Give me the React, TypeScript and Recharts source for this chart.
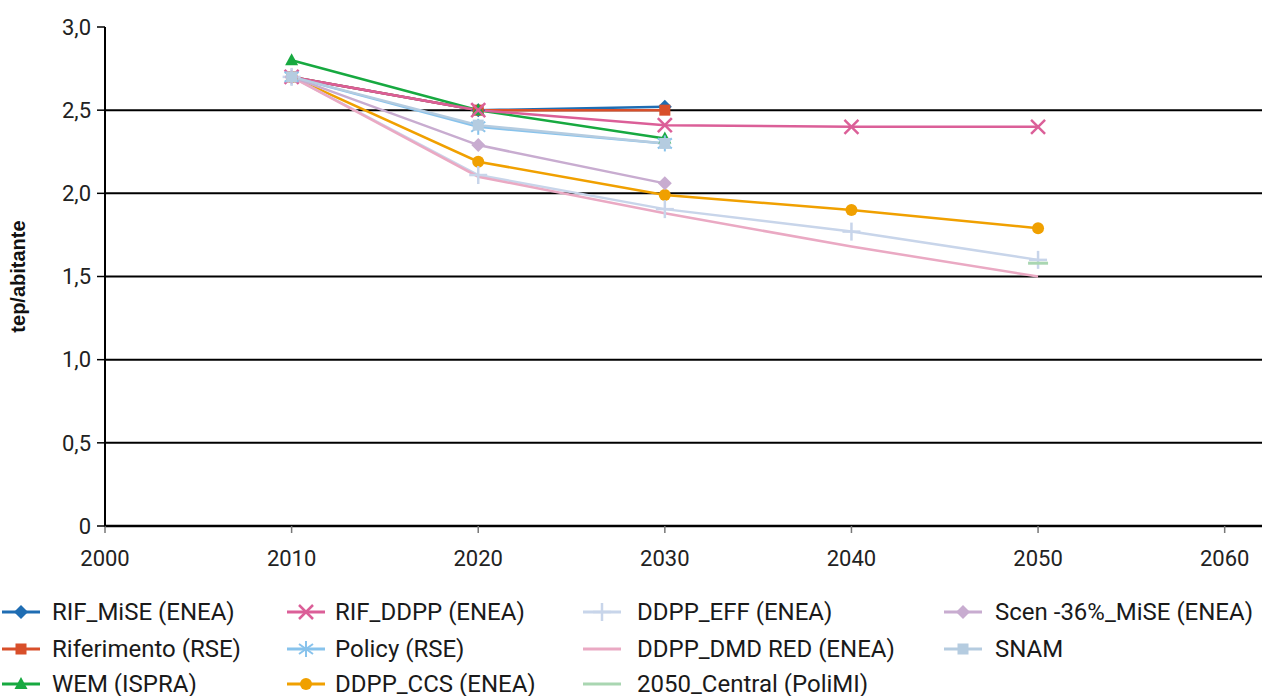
import React from 'react';
import { LineChart, Line, XAxis, YAxis, ReferenceLine } from 'recharts';

const years = [2010, 2020, 2030, 2040, 2050];

const rifMise = [2.70, 2.50, 2.52, null, null];
const riferimento = [2.70, 2.50, 2.50, null, null];
const wem = [2.80, 2.50, 2.33, null, null];
const rifDdpp = [2.70, 2.50, 2.41, 2.40, 2.40];
const policy = [2.70, 2.40, 2.30, null, null];
const ddppCcs = [2.70, 2.19, 1.99, 1.90, 1.79];
const ddppEff = [2.70, 2.11, 1.905, 1.77, 1.60];
const ddppDmd = [2.70, 2.10, 1.88, 1.68, 1.50];
const central2050 = [null, null, null, null, 1.58];
const scen36 = [2.70, 2.29, 2.06, null, null];
const snam = [2.70, 2.41, 2.30, null, null];

const xTicks = [2000, 2010, 2020, 2030, 2040, 2050, 2060];
const yTicks = [0, 0.5, 1, 1.5, 2, 2.5, 3];
const gridValues = [0.5, 1, 1.5, 2, 2.5];

type Shape = 'diamond' | 'square' | 'triangle' | 'x' | 'star' | 'circle' | 'plus' | 'none' | 'dash';

const SERIES: { key: string; name: string; color: string; shape: Shape; values: (number | null)[] }[] = [
  { key: 'rifMise', name: 'RIF_MiSE (ENEA)', color: '#1f6db3', shape: 'diamond', values: rifMise },
  { key: 'riferimento', name: 'Riferimento (RSE)', color: '#d84f2a', shape: 'square', values: riferimento },
  { key: 'wem', name: 'WEM (ISPRA)', color: '#17a940', shape: 'triangle', values: wem },
  { key: 'rifDdpp', name: 'RIF_DDPP (ENEA)', color: '#db5f98', shape: 'x', values: rifDdpp },
  { key: 'policy', name: 'Policy (RSE)', color: '#88c3ec', shape: 'star', values: policy },
  { key: 'ddppCcs', name: 'DDPP_CCS (ENEA)', color: '#f0a000', shape: 'circle', values: ddppCcs },
  { key: 'ddppEff', name: 'DDPP_EFF (ENEA)', color: '#c8d5ea', shape: 'plus', values: ddppEff },
  { key: 'ddppDmd', name: 'DDPP_DMD RED (ENEA)', color: '#eaa9c3', shape: 'none', values: ddppDmd },
  { key: 'central2050', name: '2050_Central (PoliMI)', color: '#a9d6b1', shape: 'dash', values: central2050 },
  { key: 'scen36', name: 'Scen -36%_MiSE (ENEA)', color: '#c8acd0', shape: 'diamond', values: scen36 },
  { key: 'snam', name: 'SNAM', color: '#b5cce0', shape: 'square', values: snam },
];

const data = years.map((year, i) => {
  const row: Record<string, number | null> = { year };
  SERIES.forEach((s) => { row[s.key] = s.values[i]; });
  return row;
});

function Marker({ cx, cy, color, shape }: { cx: number; cy: number; color: string; shape: Shape }) {
  switch (shape) {
    case 'diamond':
      return <polygon points={`${cx},${cy - 7} ${cx + 7},${cy} ${cx},${cy + 7} ${cx - 7},${cy}`} fill={color} />;
    case 'square':
      return <rect x={cx - 5.5} y={cy - 5.5} width={11} height={11} fill={color} />;
    case 'triangle':
      return <polygon points={`${cx},${cy - 7} ${cx + 6.5},${cy + 5} ${cx - 6.5},${cy + 5}`} fill={color} />;
    case 'x':
      return (
        <g stroke={color} strokeWidth={2.5}>
          <line x1={cx - 7} y1={cy - 7} x2={cx + 7} y2={cy + 7} />
          <line x1={cx - 7} y1={cy + 7} x2={cx + 7} y2={cy - 7} />
        </g>
      );
    case 'star':
      return (
        <g stroke={color} strokeWidth={2}>
          <line x1={cx} y1={cy - 8} x2={cx} y2={cy + 8} />
          <line x1={cx - 7} y1={cy - 5} x2={cx + 7} y2={cy + 5} />
          <line x1={cx - 7} y1={cy + 5} x2={cx + 7} y2={cy - 5} />
        </g>
      );
    case 'circle':
      return <circle cx={cx} cy={cy} r={6} fill={color} />;
    case 'plus':
      return (
        <g stroke={color} strokeWidth={2.5}>
          <line x1={cx} y1={cy - 9} x2={cx} y2={cy + 9} />
          <line x1={cx - 9} y1={cy} x2={cx + 9} y2={cy} />
        </g>
      );
    case 'dash':
      return <line x1={cx - 10} y1={cy} x2={cx + 10} y2={cy} stroke={color} strokeWidth={3} />;
    default:
      return null;
  }
}

const fmtY = (v: number) => (v === 0 ? '0' : v.toFixed(1).replace('.', ','));

const tickStyle = { fill: '#222', fontSize: 22, fontFamily: 'Roboto, sans-serif' };

const legendCols = [
  { x: 2, text: 52 },
  { x: 287, text: 335 },
  { x: 583, text: 637 },
  { x: 944, text: 995 },
];
const legendRows = [612, 649, 684];

function LegendIcon({ color, shape }: { color: string; shape: Shape }) {
  const w = 38;
  return (
    <svg width={w} height={20} style={{ position: 'absolute', left: 0, top: -10 }}>
      <line x1={0} y1={10} x2={w} y2={10} stroke={color} strokeWidth={3} />
      {shape !== 'dash' && <Marker cx={w / 2} cy={10} color={color} shape={shape} />}
    </svg>
  );
}

export default function App() {
  return (
    <div style={{ position: 'absolute', left: 0, top: 0, width: 1263, height: 696, background: '#fff' }}>
      <LineChart width={1263} height={590} data={data} margin={{ top: 27, right: 1, bottom: 34, left: 0 }}>
        <XAxis
          dataKey="year"
          type="number"
          domain={[2000, 2062]}
          ticks={xTicks}
          allowDataOverflow
          axisLine={{ stroke: '#000', strokeWidth: 2.5 }}
          tickLine={{ stroke: '#777', strokeWidth: 1.5 }}
          tickSize={7}
          tickMargin={17}
          tick={tickStyle}
        />
        <YAxis
          type="number"
          domain={[0, 3]}
          ticks={yTicks}
          width={105}
          tickFormatter={fmtY}
          axisLine={{ stroke: '#000', strokeWidth: 2 }}
          tickLine={{ stroke: '#000', strokeWidth: 1.5 }}
          tickSize={8}
          tickMargin={6}
          tick={tickStyle}
          label={{
            value: 'tep/abitante', angle: -90, position: 'insideLeft', offset: 18,
            style: { fill: '#111', fontSize: 20, fontWeight: 700, fontFamily: 'Liberation Sans, Arial, sans-serif', textAnchor: 'middle' },
          }}
        />
        {gridValues.map((v) => (
          <ReferenceLine key={v} y={v} stroke="#000" strokeWidth={2} />
        ))}
        {SERIES.map((s) => (
          <Line
            key={s.key}
            dataKey={s.key}
            name={s.name}
            stroke={s.color}
            strokeWidth={2.5}
            connectNulls
            isAnimationActive={false}
            activeDot={false}
            dot={(p: any) => {
              if (p.cx == null || p.cy == null || p.value == null) return <g key={`${s.key}-${p.index}`} />;
              return (
                <g key={`${s.key}-${p.index}`}>
                  <Marker cx={p.cx} cy={p.cy} color={s.color} shape={s.shape} />
                </g>
              );
            }}
          />
        ))}
      </LineChart>
      {SERIES.map((s, i) => {
        const col = legendCols[Math.floor(i / 3)];
        const y = legendRows[i % 3];
        return (
          <div key={s.key}>
            <div style={{ position: 'absolute', left: col.x, top: y }}>
              <LegendIcon color={s.color} shape={s.shape} />
            </div>
            <div style={{
              position: 'absolute', left: col.text, top: y - 15, fontSize: 24, lineHeight: '30px',
              fontFamily: 'Roboto, sans-serif', color: '#1a1a1a', whiteSpace: 'nowrap',
            }}>
              {s.name}
            </div>
          </div>
        );
      })}
    </div>
  );
}
